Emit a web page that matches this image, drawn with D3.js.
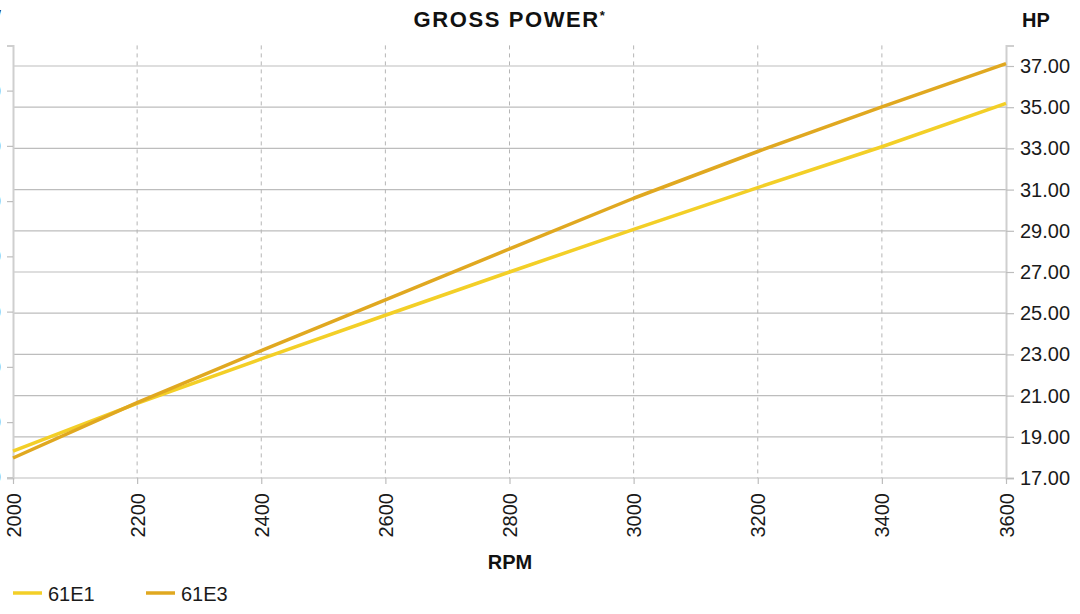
<!DOCTYPE html>
<html>
<head>
<meta charset="utf-8">
<script src="https://cdn.jsdelivr.net/npm/d3@7/dist/d3.min.js"></script>
<style>
  html, body { margin: 0; padding: 0; background: #fff; }
  svg { display: block; font-family: "Liberation Sans", Arial, sans-serif; }
</style>
</head>
<body>
<div id="chart"></div>
<script>
// values
var rpm = [2000, 2200, 2400, 2600, 2800, 3000, 3200, 3400, 3600];
var hp61E1 = [18.31, 20.62, 22.78, 24.9, 27.0, 29.07, 31.1, 33.08, 35.19];
var hp61E3 = [17.97, 20.66, 23.18, 25.65, 28.12, 30.58, 32.85, 35.02, 37.12];
var hpTicks = [17, 19, 21, 23, 25, 27, 29, 31, 33, 35, 37];
var kwTicks = [12.7, 14.7, 16.7, 18.7, 20.7, 22.7, 24.7, 26.7];

var series = [
  {name: "61E1", values: hp61E1, color: "#f3cf27"},
  {name: "61E3", values: hp61E3, color: "#e0a820"}
];

var width = 1080, height = 614;
// plot box (note: "top" is taken by window.top, so use other names)
var plotLeft = 13, plotRight = 1006, plotTop = 45.4, plotBottom = 478;

var svg = d3.select("#chart").append("svg")
  .attr("width", width)
  .attr("height", height);

var x = d3.scaleLinear().domain([2000, 3600]).range([plotLeft, plotRight]);
var y = d3.scaleLinear().domain([17, 38]).range([plotBottom, plotTop]);
// kW axis on the left, same span converted from HP
var yKw = d3.scaleLinear().domain([17 * 0.7457, 38 * 0.7457]).range([plotBottom, plotTop]);

// horizontal grid (HP)
svg.append("g")
  .selectAll("line")
  .data(hpTicks)
  .join("line")
  .attr("x1", plotLeft).attr("x2", plotRight)
  .attr("y1", function(d){ return y(d); })
  .attr("y2", function(d){ return y(d); })
  .attr("stroke", "#bdbdbd")
  .attr("stroke-width", 1.2);

// vertical dashed grid (RPM)
svg.append("g")
  .selectAll("line")
  .data(rpm.slice(1, -1))
  .join("line")
  .attr("x1", function(d){ return x(d); })
  .attr("x2", function(d){ return x(d); })
  .attr("y1", plotTop).attr("y2", plotBottom)
  .attr("stroke", "#b5b5b5")
  .attr("stroke-width", 1)
  .attr("stroke-dasharray", "4,4");

function styleAxis(g){
  g.select(".domain").attr("stroke", "#cfcfcf").attr("stroke-width", 2);
  g.selectAll(".tick line").attr("stroke", "#bdbdbd").attr("stroke-width", 1.2);
  g.selectAll(".tick text")
    .attr("fill", "#1a1a1a")
    .style("font-size", "20px")
    .style("font-family", "Liberation Sans, Arial, sans-serif");
}

// left axis, labels fall off the page as in the reference
var gl = svg.append("g")
  .attr("transform", "translate(" + plotLeft + ",0)")
  .call(d3.axisLeft(yKw).tickValues(kwTicks).tickFormat(d3.format(".2f")).tickSizeOuter(0).tickSize(6).tickPadding(6));
styleAxis(gl);

// right axis HP
var gr = svg.append("g")
  .attr("transform", "translate(" + plotRight + ",0)")
  .call(d3.axisRight(y).tickValues(hpTicks).tickFormat(d3.format(".2f")).tickSizeOuter(0).tickSize(8).tickPadding(6));
styleAxis(gr);

// bottom axis RPM, rotated labels
var gb = svg.append("g")
  .attr("transform", "translate(0," + plotBottom + ")")
  .call(d3.axisBottom(x).tickValues(rpm).tickFormat(d3.format("d")).tickSizeOuter(0).tickSize(6));
styleAxis(gb);
gb.select(".domain").remove();
gb.selectAll(".tick text")
  .attr("transform", "rotate(-90)")
  .attr("text-anchor", "end")
  .attr("x", -15)
  .attr("y", 0)
  .attr("dy", "0.35em");

// lines
var line = d3.line()
  .x(function(d, i){ return x(rpm[i]); })
  .y(function(d){ return y(d); });

svg.append("g")
  .selectAll("path")
  .data(series)
  .join("path")
  .attr("d", function(s){ return line(s.values); })
  .attr("fill", "none")
  .attr("stroke", function(s){ return s.color; })
  .attr("stroke-width", 3.5)
  .attr("stroke-linejoin", "round");

// titles
var title = svg.append("text")
  .attr("x", 510).attr("y", 27)
  .attr("text-anchor", "middle")
  .style("font-size", "22px")
  .style("font-weight", "bold")
  .style("letter-spacing", "1.6px")
  .attr("fill", "#111");
title.append("tspan").text("GROSS POWER");
title.append("tspan").text("*").attr("dy", -7).style("font-size", "13px");

svg.append("text")
  .attr("x", 1022).attr("y", 27)
  .style("font-size", "20px").style("font-weight", "bold")
  .attr("fill", "#111")
  .text("HP");

svg.append("text")
  .attr("x", 1).attr("y", 24)
  .attr("text-anchor", "end")
  .style("font-size", "20px").style("font-weight", "bold")
  .attr("fill", "#111")
  .text("kW");

svg.append("text")
  .attr("x", 510).attr("y", 569)
  .attr("text-anchor", "middle")
  .style("font-size", "20px").style("font-weight", "bold")
  .attr("fill", "#111")
  .text("RPM");

// legend
var legend = svg.append("g")
  .selectAll("g")
  .data(series)
  .join("g")
  .attr("transform", function(d, i){ return "translate(" + (13 + i * 133) + ",593)"; });

legend.append("line")
  .attr("x1", 0).attr("x2", 29)
  .attr("stroke", function(d){ return d.color; })
  .attr("stroke-width", 3.5);

legend.append("text")
  .attr("x", 35).attr("y", 8)
  .style("font-size", "20px")
  .attr("fill", "#1a1a1a")
  .text(function(d){ return d.name; });
</script>
</body>
</html>
